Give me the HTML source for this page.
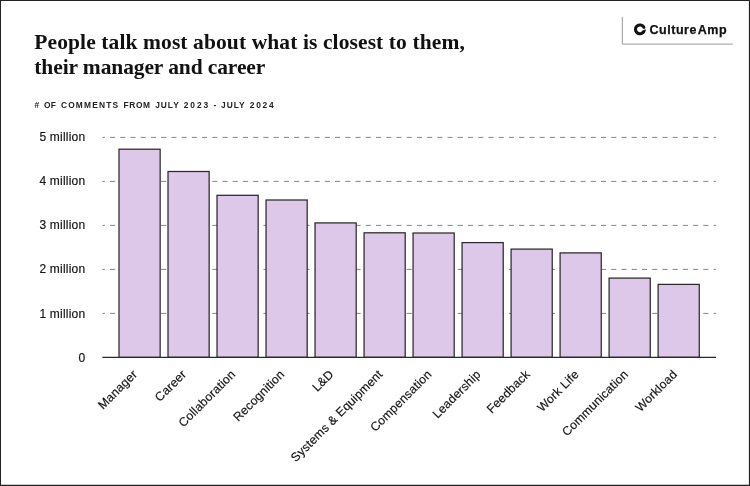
<!DOCTYPE html>
<html lang="en">
<head>
<meta charset="utf-8">
<title>People talk most about what is closest to them, their manager and career</title>
<style>
html,body{margin:0;padding:0;background:#fff;}
body{width:750px;height:486px;overflow:hidden;position:relative;}
svg{display:block;position:absolute;left:0;top:0;}
.title{font-family:"Liberation Serif",serif;font-weight:700;font-size:21.5px;fill:#111;}
.sub{font-family:"Liberation Sans",sans-serif;font-weight:700;font-size:8.4px;fill:#222;}
.yl{font-family:"Liberation Sans",sans-serif;font-size:12px;fill:#151515;stroke:#151515;stroke-width:0.18px;text-anchor:end;letter-spacing:0.22px;}
.xl{font-family:"Liberation Sans",sans-serif;font-size:12.2px;fill:#151515;stroke:#151515;stroke-width:0.18px;text-anchor:end;letter-spacing:0.2px;}
.logo{font-family:"Liberation Sans",sans-serif;font-weight:700;font-size:12.5px;fill:#111;letter-spacing:0.55px;word-spacing:-2.8px;stroke:#111;stroke-width:0.25px;}
</style>
</head>
<body>
<svg width="750" height="486" viewBox="0 0 750 486">
<rect x="0" y="0" width="750" height="486" fill="#ffffff"/>
<path d="M0 0H750V486H0Z M1 1V484.7H748.9V1Z" fill="#222" fill-rule="evenodd"/>
<text class="title" x="34.3" y="49.0" textLength="430.5">People talk most about what is closest to them,</text>
<text class="title" x="34.3" y="74.3" textLength="231">their manager and career</text>
<text class="sub" y="108"><tspan x="34.5" textLength="4.3" lengthAdjust="spacing">#</tspan> <tspan x="44.1" textLength="11.8" lengthAdjust="spacing">OF</tspan> <tspan x="60.9" textLength="57.2" lengthAdjust="spacing">COMMENTS</tspan> <tspan x="123.4" textLength="26.7" lengthAdjust="spacing">FROM</tspan> <tspan x="155.2" textLength="23.4" lengthAdjust="spacing">JULY</tspan> <tspan x="183.8" textLength="24.3" lengthAdjust="spacing">2023</tspan> <tspan x="213.6" textLength="2.8" lengthAdjust="spacing">-</tspan> <tspan x="221.1" textLength="23.4" lengthAdjust="spacing">JULY</tspan> <tspan x="249.7" textLength="24.0" lengthAdjust="spacing">2024</tspan></text>
<g id="logo">
<path d="M622.3 16.9 V44.1 H732.8" fill="none" stroke="#999" stroke-width="1"/>
<path transform="translate(0 0.3)" d="M645.29 26.54 A5.95 5.95 0 1 0 645.85 29.05 L642.53 30.28 A2.9 2.9 0 1 1 642.53 27.82 A1.52 1.52 0 0 0 645.29 26.54 Z" fill="#111"/>
<text class="logo" x="649.4" y="33.6">Culture Amp</text>
</g>
<g id="grid" stroke="#858585" stroke-width="1" stroke-dasharray="5.115 5.115" stroke-dashoffset="2.56">
<line x1="102.3" y1="137.4" x2="716" y2="137.4"/>
<line x1="102.3" y1="181.4" x2="716" y2="181.4"/>
<line x1="102.3" y1="225.4" x2="716" y2="225.4"/>
<line x1="102.3" y1="269.4" x2="716" y2="269.4"/>
<line x1="102.3" y1="313.4" x2="716" y2="313.4"/>
</g>
<g id="ylabels">
<text class="yl" x="85.4" y="140.7">5 million</text>
<text class="yl" x="85.4" y="184.9">4 million</text>
<text class="yl" x="85.4" y="229.1">3 million</text>
<text class="yl" x="85.4" y="273.3">2 million</text>
<text class="yl" x="85.4" y="317.5">1 million</text>
<text class="yl" x="85.4" y="361.7">0</text>
</g>
<g id="bars" fill="#dec8ea" stroke="#2a2a2a" stroke-width="1.25">
<rect x="119.00" y="149.2" width="41.15" height="208.2"/>
<rect x="168.01" y="171.5" width="41.15" height="185.8"/>
<rect x="217.02" y="195.3" width="41.15" height="162.0"/>
<rect x="266.03" y="200.0" width="41.15" height="157.3"/>
<rect x="315.04" y="222.9" width="41.15" height="134.4"/>
<rect x="364.05" y="232.8" width="41.15" height="124.5"/>
<rect x="413.06" y="233.0" width="41.15" height="124.3"/>
<rect x="462.07" y="242.6" width="41.15" height="114.7"/>
<rect x="511.08" y="249.1" width="41.15" height="108.2"/>
<rect x="560.09" y="252.9" width="41.15" height="104.4"/>
<rect x="609.10" y="278.1" width="41.15" height="79.2"/>
<rect x="658.11" y="284.4" width="41.15" height="72.9"/>
</g>
<line x1="102.3" y1="357.3" x2="716" y2="357.3" stroke="#2a2a2a" stroke-width="1.3"/>
<g id="xlabels">
<text class="xl" transform="translate(134.9 372) rotate(-45)" x="0" y="0" dy="0.35em">Manager</text>
<text class="xl" transform="translate(184.0 372) rotate(-45)" x="0" y="0" dy="0.35em">Career</text>
<text class="xl" transform="translate(233.1 372) rotate(-45)" x="0" y="0" dy="0.35em">Collaboration</text>
<text class="xl" transform="translate(282.2 372) rotate(-45)" x="0" y="0" dy="0.35em">Recognition</text>
<text class="xl" transform="translate(331.3 372) rotate(-45)" x="0" y="0" dy="0.35em">L&amp;D</text>
<text class="xl" transform="translate(380.3 372) rotate(-45)" x="0" y="0" dy="0.35em">Systems &amp; Equipment</text>
<text class="xl" transform="translate(429.4 372) rotate(-45)" x="0" y="0" dy="0.35em">Compensation</text>
<text class="xl" transform="translate(478.5 372) rotate(-45)" x="0" y="0" dy="0.35em">Leadership</text>
<text class="xl" transform="translate(527.6 372) rotate(-45)" x="0" y="0" dy="0.35em">Feedback</text>
<text class="xl" transform="translate(576.7 372) rotate(-45)" x="0" y="0" dy="0.35em">Work Life</text>
<text class="xl" transform="translate(625.8 372) rotate(-45)" x="0" y="0" dy="0.35em">Communication</text>
<text class="xl" transform="translate(674.8 372) rotate(-45)" x="0" y="0" dy="0.35em">Workload</text>
</g>
</svg>
</body>
</html>
